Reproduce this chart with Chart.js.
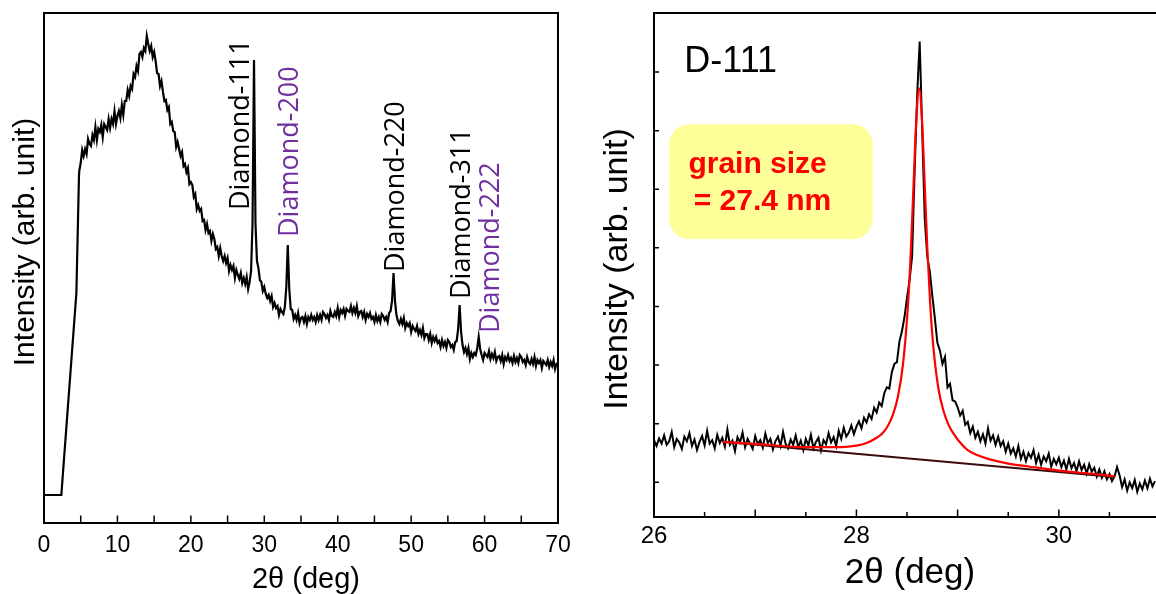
<!DOCTYPE html>
<html>
<head>
<meta charset="utf-8">
<script src="https://cdn.jsdelivr.net/npm/chart.js@4.4.1/dist/chart.umd.min.js"></script>
<style>
  body { margin: 0; background: #fff; }
  #wrap { position: relative; width: 1156px; height: 594px; overflow: hidden; background: #fff; }
  #left { position: absolute; left: 0; top: 0; }
  #right { position: absolute; left: 590px; top: 0; }
</style>
</head>
<body>
<div id="wrap">
  <canvas id="left" width="580" height="594"></canvas>
  <canvas id="right" width="566" height="594"></canvas>
</div>
<script>
// ---------- 左圖：完整 XRD 圖譜 (強度為任意單位) ----------
const leadAngle = [0, 2.36, 4.41, 4.76];
const leadIntensity = [28, 28, 230, 346];
// 4.8° 之後每 0.2° 一點
const scanStart = 4.8;
const scanStep = 0.2;
const scanIntensity = [
  352, 360,
  373, 367, 374, 369, 384, 379, 377, 388, 383, 396,
  383, 394, 391, 398, 386, 399, 396, 393, 404, 395,
  404, 399, 412, 399, 407, 412, 405, 418, 408, 422,
  422, 433, 427, 437, 434, 449, 446, 457, 452, 469,
  471, 466, 475, 472, 487, 479, 472, 477, 466, 471,
  462, 450, 449, 437, 442, 431, 422, 423, 413, 416,
  399, 401, 392, 391, 376, 381, 374, 367, 371, 357,
  359, 351, 355, 339, 341, 338, 326, 329, 314, 318,
  312, 314, 302, 303, 293, 299, 290, 292, 282, 289,
  284, 274, 276, 267, 275, 267, 262, 267, 260, 265,
  252, 258, 253, 257, 245, 253, 248, 244, 250, 240,
  245, 239, 246, 234, 241, 252, 300, 463, 300, 262,
  255, 243, 241, 232, 236, 229, 225, 228, 222, 227,
  216, 220, 215, 217, 208, 214, 211, 209, 216, 236,
  278, 234, 214, 213, 204, 208, 203, 210, 200, 205,
  206, 201, 207, 199, 206, 203, 208, 203, 206, 201,
  208, 203, 208, 203, 211, 209, 205, 208, 203, 212,
  207, 206, 211, 207, 215, 206, 213, 210, 214, 207,
  214, 212, 211, 217, 210, 215, 210, 217, 207, 211,
  212, 206, 211, 203, 209, 206, 210, 204, 206, 201,
  208, 202, 206, 201, 209, 207, 203, 206, 201, 210,
  212, 222, 250, 222, 208, 202, 199, 204, 199, 205,
  195, 200, 197, 200, 191, 197, 194, 192, 197, 189,
  193, 188, 195, 185, 189, 189, 183, 189, 180, 186,
  182, 186, 180, 182, 176, 183, 177, 181, 175, 183,
  181, 176, 178, 173, 181, 182, 194, 218, 191, 178,
  171, 175, 169, 175, 164, 170, 166, 170, 168, 175,
  186, 174, 168, 163, 170, 168, 166, 172, 164, 169,
  165, 171, 162, 166, 167, 162, 168, 159, 166, 163,
  168, 162, 165, 160, 167, 161, 165, 160, 168, 166,
  161, 163, 158, 166, 161, 159, 164, 159, 166, 157,
  163, 160, 163, 155, 162, 160, 158, 163, 156, 161,
  157, 163, 154, 159, 160
];
const leftTicks = [0, 10, 20, 30, 40, 50, 60, 70];
const leftTickMarks = [0, 5, 10, 15, 20, 25, 30, 35, 40, 45, 50, 55, 60, 65, 70];
const peakNames = ['Diamond-111', 'Diamond-200', 'Diamond-220', 'Diamond-311', 'Diamond-222'];

// ---------- 右圖：D-111 峰放大與擬合 ----------
// 26.0° 起每 0.025° 一點
const zoomStart = 26.0;
const zoomStep = 0.025;
const zoomIntensity = [
  1.72, 1.62, 1.75, 1.66, 1.80, 1.64, 1.70, 1.86, 1.60, 1.74, 1.68, 1.57, 1.78, 1.70, 1.84, 1.62, 1.73, 1.55, 1.69, 1.79,
  1.63, 1.88, 1.66, 1.72, 1.58, 1.81, 1.67, 1.76, 1.61, 1.90, 1.64, 1.71, 1.53, 1.77, 1.68, 1.85, 1.60, 1.74, 1.66, 1.57,
  1.79, 1.65, 1.72, 1.59, 1.83, 1.67, 1.74, 1.56, 1.70, 1.78, 1.62, 1.86, 1.66, 1.58, 1.73, 1.64, 1.80, 1.60, 1.71, 1.55,
  1.74, 1.63, 1.81, 1.58, 1.69, 1.76, 1.54, 1.72, 1.65, 1.84, 1.68, 1.77, 1.62, 1.88, 1.74, 1.93, 1.78, 1.85, 1.97, 1.82,
  1.95, 2.04, 1.92, 2.10, 2.02, 2.16, 2.08, 2.27, 2.19, 2.36, 2.30, 2.52, 2.62, 2.60, 2.88, 3.02, 3.05, 3.40, 3.58, 3.82,
  4.15, 4.45, 4.85, 6.30, 7.60, 8.52, 7.00, 5.50, 4.85, 4.60, 4.18, 3.80, 3.38, 3.25, 3.02, 3.14, 2.62, 2.68, 2.40, 2.38,
  2.28, 2.14, 2.22, 1.98, 2.03, 1.84, 1.95, 1.76, 1.86, 1.70, 1.82, 1.66, 1.92, 1.71, 1.80, 1.64, 1.78, 1.62, 1.70, 1.52,
  1.66, 1.49, 1.58, 1.44, 1.62, 1.40, 1.52, 1.36, 1.50, 1.42, 1.55, 1.33, 1.47, 1.30, 1.44, 1.36, 1.49, 1.27, 1.40, 1.31,
  1.42, 1.26, 1.37, 1.22, 1.40, 1.24, 1.33, 1.19, 1.36, 1.21, 1.30, 1.15, 1.31, 1.18, 1.25, 1.10, 1.22, 1.08, 1.19, 1.05,
  1.14, 1.02, 1.10, 1.26, 1.12, 0.92, 1.05, 0.86, 1.00, 0.90, 1.04, 0.84, 0.98, 0.88, 1.03, 0.90, 1.06, 0.93, 1.02
];
const fitAngle = [26.68, 27.0, 27.5, 27.85, 28.0, 28.1, 28.2, 28.26, 28.31, 28.36, 28.41, 28.46, 28.51, 28.54, 28.57, 28.59,
  28.62, 28.65, 28.67, 28.70, 28.73, 28.76, 28.81, 28.86, 28.91, 28.96, 29.01, 29.1, 29.2, 29.3, 29.5, 29.7, 30.0, 30.3, 30.55];
const fitIntensity = [1.69, 1.655, 1.60, 1.60, 1.625, 1.67, 1.76, 1.84, 1.96, 2.15, 2.46, 3.01, 4.04, 5.04, 6.31, 7.13,
  7.72, 7.12, 6.29, 5.01, 4.01, 3.31, 2.60, 2.22, 1.98, 1.83, 1.71, 1.55, 1.46, 1.40, 1.32, 1.27, 1.20, 1.15, 1.10];
const baseAngle = [26.68, 30.55];
const baseIntensity = [1.69, 1.09];
const rightTicks = [26, 28, 30];
const rightTickMarks = [26, 26.5, 27, 27.5, 28, 28.5, 29, 29.5, 30, 30.5];
const rightYTicks = [1, 2, 3, 4, 5, 6, 7, 8];

// ---------- 組合資料點 ----------
const leftPoints = leadAngle.map((a, i) => ({ x: a, y: leadIntensity[i] }))
  .concat(scanIntensity.map((v, i) => ({ x: scanStart + i * scanStep, y: v })));
const zoomPoints = zoomIntensity.map((v, i) => ({ x: zoomStart + i * zoomStep, y: v }));
const fitPoints = fitAngle.map((a, i) => ({ x: a, y: fitIntensity[i] }));
const basePoints = baseAngle.map((a, i) => ({ x: a, y: baseIntensity[i] }));

const ARIAL = '"Liberation Sans", Arial, sans-serif';

// 峰標籤的位置 (文字基線所在角度、文字起點高度)
const peakLabelPos = [
  { x: 27.9, y: 313, color: '#000000' },
  { x: 34.6, y: 286, color: '#7030a0' },
  { x: 49.0, y: 251, color: '#000000' },
  { x: 58.0, y: 224, color: '#000000' },
  { x: 62.0, y: 190, color: '#7030a0' }
];

function vText(ctx, text, x, y, font, color) {
  ctx.save();
  ctx.translate(x, y);
  ctx.rotate(-Math.PI / 2);
  ctx.font = font;
  ctx.fillStyle = color;
  ctx.textAlign = 'left';
  ctx.textBaseline = 'alphabetic';
  ctx.fillText(text, 0, 0);
  ctx.restore();
}

function centerText(ctx, text, x, y, font, rotate) {
  ctx.save();
  ctx.translate(x, y);
  if (rotate) ctx.rotate(-Math.PI / 2);
  ctx.font = font;
  ctx.fillStyle = '#000';
  ctx.textAlign = 'center';
  ctx.textBaseline = 'middle';
  ctx.fillText(text, 0, 0);
  ctx.restore();
}

// 左圖外框、內向刻度、標籤
const leftFrame = {
  id: 'leftFrame',
  afterDatasetsDraw(chart) {
    const { ctx, chartArea: a, scales: { x, y } } = chart;
    ctx.save();
    ctx.strokeStyle = '#000';
    ctx.lineWidth = 2;
    ctx.strokeRect(a.left, a.top, a.right - a.left, a.bottom - a.top);
    ctx.lineWidth = 1.5;
    ctx.beginPath();
    leftTickMarks.forEach(v => {
      const px = x.getPixelForValue(v);
      ctx.moveTo(px, a.bottom);
      ctx.lineTo(px, a.bottom - 7.5);
    });
    ctx.stroke();
    peakNames.forEach((name, i) => {
      const p = peakLabelPos[i];
      vText(ctx, name, x.getPixelForValue(p.x), y.getPixelForValue(p.y), '27px "Open Sans", sans-serif', p.color);
    });
    centerText(ctx, 'Intensity (arb. unit)', 26, 242, '30px ' + ARIAL, true);
    centerText(ctx, '2θ (deg)', 306, 580, '29px ' + ARIAL, false);
    ctx.restore();
  }
};

// 右圖外框、刻度、文字框
const rightFrame = {
  id: 'rightFrame',
  beforeDatasetsDraw(chart) {
    const { ctx, scales: { x, y } } = chart;
    const l = x.getPixelForValue(26.15), r = x.getPixelForValue(28.16);
    const t = y.getPixelForValue(7.11), b = y.getPixelForValue(5.15);
    ctx.save();
    ctx.fillStyle = '#ffff99';
    ctx.beginPath();
    ctx.roundRect(l, t, r - l, b - t, 20);
    ctx.fill();
    ctx.restore();
  },
  afterDatasetsDraw(chart) {
    const { ctx, chartArea: a, scales: { x, y } } = chart;
    ctx.save();
    ctx.strokeStyle = '#000';
    ctx.lineWidth = 2;
    ctx.beginPath();
    ctx.moveTo(chart.width, a.top);
    ctx.lineTo(a.left, a.top);
    ctx.lineTo(a.left, a.bottom);
    ctx.lineTo(chart.width, a.bottom);
    ctx.stroke();
    ctx.lineWidth = 1.5;
    ctx.beginPath();
    rightTickMarks.forEach(v => {
      const px = x.getPixelForValue(v);
      ctx.moveTo(px, a.bottom);
      ctx.lineTo(px, a.bottom - (Number.isInteger(v) ? 7.5 : 5));
    });
    rightYTicks.forEach(v => {
      const py = y.getPixelForValue(v);
      ctx.moveTo(a.left, py);
      ctx.lineTo(a.left + 5, py);
    });
    ctx.stroke();

    ctx.fillStyle = '#000';
    ctx.font = '36px ' + ARIAL;
    ctx.textAlign = 'left';
    ctx.textBaseline = 'alphabetic';
    ctx.fillText('D-111', x.getPixelForValue(26.30), y.getPixelForValue(8.0));
    ctx.fillStyle = '#ff0000';
    ctx.font = 'bold 30px ' + ARIAL;
    ctx.fillText('grain size', x.getPixelForValue(26.34), y.getPixelForValue(6.28));
    ctx.fillText(' = 27.4 nm', x.getPixelForValue(26.31), y.getPixelForValue(5.65));

    centerText(ctx, 'Intensity (arb. unit)', 28, 269, '34px ' + ARIAL, true);
    centerText(ctx, '2θ (deg)', 320, 573, '35px ' + ARIAL, false);
    ctx.restore();
  }
};

Chart.defaults.font.family = ARIAL;
Chart.defaults.color = '#000';

new Chart(document.getElementById('left'), {
  type: 'line',
  data: {
    datasets: [{
      data: leftPoints,
      borderColor: '#000',
      borderWidth: 2.2,
      pointRadius: 0,
      tension: 0
    }]
  },
  options: {
    responsive: false,
    animation: false,
    devicePixelRatio: 1,
    layout: { padding: { left: 44, top: 13, right: 22, bottom: 0 } },
    plugins: { legend: { display: false }, tooltip: { enabled: false } },
    scales: {
      x: {
        type: 'linear', min: 0, max: 70,
        afterBuildTicks: s => { s.ticks = leftTicks.map(v => ({ value: v })); },
        afterFit: s => { s.height = 71; },
        grid: { display: false, drawTicks: false },
        border: { display: false },
        ticks: { padding: 9, maxRotation: 0, font: { size: 23 }, color: '#000' }
      },
      y: { display: false, min: 0, max: 510 }
    }
  },
  plugins: [leftFrame]
});

new Chart(document.getElementById('right'), {
  type: 'line',
  data: {
    datasets: [
      { data: fitPoints, borderColor: '#ff0000', borderWidth: 2.2, pointRadius: 0, cubicInterpolationMode: 'monotone', order: 0 },
      { data: basePoints, borderColor: '#3b0a0a', borderWidth: 2, pointRadius: 0, order: 1 },
      { data: zoomPoints, borderColor: '#000', borderWidth: 2, pointRadius: 0, tension: 0, order: 2 }
    ]
  },
  options: {
    responsive: false,
    animation: false,
    devicePixelRatio: 1,
    layout: { padding: { left: 64, top: 13, right: 0, bottom: 0 } },
    plugins: { legend: { display: false }, tooltip: { enabled: false } },
    scales: {
      x: {
        type: 'linear', min: 26, max: 30.96,
        afterBuildTicks: s => { s.ticks = rightTicks.map(v => ({ value: v })); },
        afterFit: s => { s.height = 77; },
        grid: { display: false, drawTicks: false },
        border: { display: false },
        ticks: { padding: 5, maxRotation: 0, font: { size: 24 }, color: '#000' }
      },
      y: { display: false, min: 0.408, max: 9.007 }
    }
  },
  plugins: [rightFrame]
});
</script>
</body>
</html>
